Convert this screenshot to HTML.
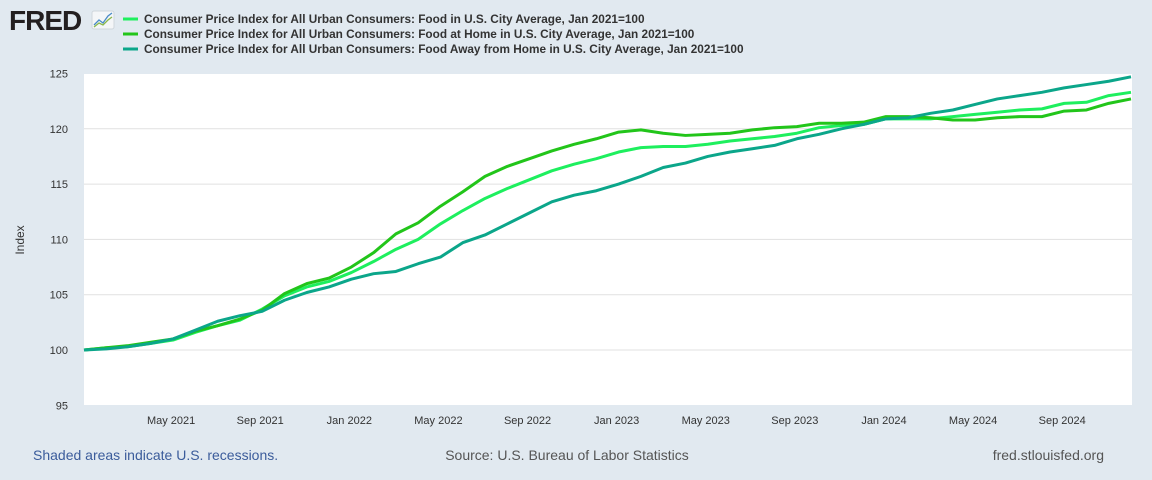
<!DOCTYPE html>
<html><head><meta charset="utf-8"><style>
body{margin:0;background:#e1e9f0;font-family:"Liberation Sans",sans-serif;}
#wrap{position:relative;width:1152px;height:480px;overflow:hidden;background:#e1e9f0;}
</style></head><body>
<div id="wrap">
<svg id="svg" width="1152" height="480" xmlns="http://www.w3.org/2000/svg">
  <g>
    <text x="9" y="30" font-family="Liberation Sans" font-weight="bold" font-size="28" fill="#231f20" letter-spacing="-1">FRED</text>
    <rect x="92" y="11" width="22" height="18" rx="2" fill="#f4f6f8" stroke="#cfd6dc"/>
    <polyline points="94,25 99,20 103,23 108,16 112,13" fill="none" stroke="#4a8bc7" stroke-width="1.3"/>
    <polyline points="94,27 99,23 103,25 108,20 112,17" fill="none" stroke="#8ab84a" stroke-width="1.3"/>
  </g>
  <g id="legend"></g>
  <rect x="84" y="74" width="1048" height="331" fill="#fff"/>
  <g id="grid"></g>
  <g id="lines"></g>
  <g id="xt"></g>
  <g id="yt"></g>
  <text transform="translate(24,240) rotate(-90)" text-anchor="middle" font-size="12" fill="#333">Index</text>
  <text x="33" y="460" font-size="14" fill="#3b5c9b">Shaded areas indicate U.S. recessions.</text>
  <text x="567" y="460" text-anchor="middle" font-size="14" fill="#555">Source: U.S. Bureau of Labor Statistics</text>
  <text x="1104" y="460" text-anchor="end" font-size="14" fill="#555">fred.stlouisfed.org</text>
</svg>
</div>
<script>
const foodValues=[100.0,100.2,100.3,100.6,100.9,101.6,102.2,102.7,103.7,104.9,105.7,106.2,107.0,108.0,109.1,110.0,111.4,112.6,113.7,114.6,115.4,116.2,116.8,117.3,117.9,118.3,118.4,118.4,118.6,118.9,119.1,119.3,119.6,120.1,120.3,120.4,120.9,120.9,120.9,121.1,121.3,121.5,121.7,121.8,122.3,122.4,123.0,123.3];
const homeValues=[100.0,100.2,100.4,100.7,101.0,101.7,102.2,102.8,103.6,105.1,106.0,106.5,107.5,108.8,110.5,111.5,113.0,114.3,115.7,116.6,117.3,118.0,118.6,119.1,119.7,119.9,119.6,119.4,119.5,119.6,119.9,120.1,120.2,120.5,120.5,120.6,121.1,121.1,121.0,120.8,120.8,121.0,121.1,121.1,121.6,121.7,122.3,122.7];
const awayValues=[100.0,100.1,100.3,100.6,101.0,101.8,102.6,103.1,103.5,104.5,105.2,105.7,106.4,106.9,107.1,107.8,108.4,109.7,110.4,111.4,112.4,113.4,114.0,114.4,115.0,115.7,116.5,116.9,117.5,117.9,118.2,118.5,119.1,119.5,120.0,120.4,120.9,121.0,121.4,121.7,122.2,122.7,123.0,123.3,123.7,124.0,124.3,124.7];
const yTicks=[95,100,105,110,115,120,125];
const xTickLabels=["May 2021","Sep 2021","Jan 2022","May 2022","Sep 2022","Jan 2023","May 2023","Sep 2023","Jan 2024","May 2024","Sep 2024"];
const xTickIdx=[4,8,12,16,20,24,28,32,36,40,44];
const seriesNames=["Consumer Price Index for All Urban Consumers: Food in U.S. City Average, Jan 2021=100","Consumer Price Index for All Urban Consumers: Food at Home in U.S. City Average, Jan 2021=100","Consumer Price Index for All Urban Consumers: Food Away from Home in U.S. City Average, Jan 2021=100"];
const NS="http://www.w3.org/2000/svg";
const X0=84,X1=1131,N=48;
function xs(i){return X0+i*(X1-X0)/(N-1);}
function ys(v){return 350-(v-100)*11.06;}
function mk(t,a,p){const e=document.createElementNS(NS,t);for(const k in a)e.setAttribute(k,a[k]);p.appendChild(e);return e;}
const grid=document.getElementById('grid'),yt=document.getElementById('yt'),xt=document.getElementById('xt');
yTicks.forEach(v=>{
  if(v>95&&v<125){const l=mk('line',{x1:X0,x2:1132,y1:ys(v),y2:ys(v),stroke:'#e1e1e1','stroke-width':1},grid);
  
  }
  const t=mk('text',{x:68,y:ys(v)+4,'text-anchor':'end','font-size':11,fill:'#333'},yt);t.textContent=v;
  
  
});
xTickIdx.forEach((ix,k)=>{
  const t=mk('text',{x:xs(ix)-2,y:424,'text-anchor':'middle','font-size':11,fill:'#333'},xt);t.textContent=xTickLabels[k];
  
  
});
const colors=['#1eef5e','#22c51a','#0ba68a'];
const all=[foodValues,homeValues,awayValues];
const names=['food-line','food-at-home-line','food-away-line'];
const lines=document.getElementById('lines');
all.forEach((vals,s)=>{
  const p=mk('polyline',{points:vals.map((v,i)=>xs(i)+','+ys(v)).join(' '),fill:'none',stroke:colors[s],'stroke-width':3,'stroke-linejoin':'round'},lines);
  
  
});
const lg=document.getElementById('legend');
seriesNames.forEach((n,s)=>{
  const y=19+s*15;
  const g=mk('g',{},lg);
  
  
  mk('line',{x1:123,x2:138,y1:y,y2:y,stroke:colors[s],'stroke-width':3},g);
  const t=mk('text',{x:144,y:y+4,'font-size':11.8,'font-weight':'bold',fill:'#333'},g);t.textContent=n;
});
</script>
</body></html>
